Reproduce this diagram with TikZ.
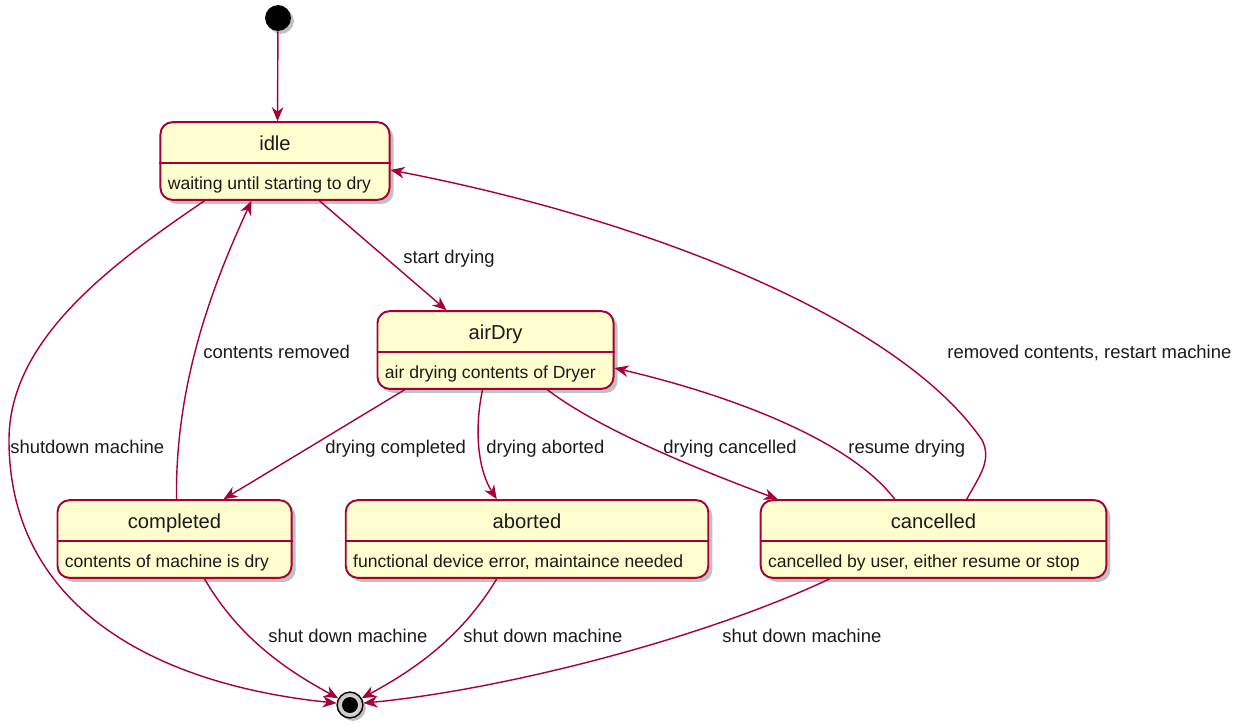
\documentclass[tikz,border=0pt]{standalone}
\usepackage{fontspec}
\setmainfont{Liberation Sans}
\usetikzlibrary{arrows.meta,calc,shadows}
\definecolor{umlred}{HTML}{A80036}
\definecolor{umlfill}{HTML}{FEFECE}
\definecolor{umltext}{HTML}{1A1A1A}
\tikzset{
  statebox/.style={draw=umlred, line width=1.1pt, fill=umlfill, rounded corners=6.8pt, inner sep=0pt,
    drop shadow={shadow xshift=2.3pt, shadow yshift=-2.3pt, opacity=0.35, fill=black!70}},
  titletext/.style={font=\fontsize{11.5}{13}\selectfont, text=umltext, inner sep=0pt, text height=0.75em, text depth=0.25em},
  bodytext/.style={font=\fontsize{10}{12}\selectfont, text=umltext, inner sep=0pt, text height=0.75em, text depth=0.25em, anchor=west},
  lbl/.style={font=\fontsize{10.5}{12}\selectfont, text=umltext, inner sep=0pt, text height=0.75em, text depth=0.25em, anchor=west},
  edge/.style={draw=umlred, line width=0.8pt, -{Stealth[length=8pt, width=6.6pt, inset=2.6pt]}},
  startdot/.style={circle, fill=black, minimum size=14.7pt, inner sep=0pt,
    drop shadow={shadow xshift=1.7pt, shadow yshift=-1.7pt, opacity=0.35, fill=black!70}},
  enddot/.style={circle, draw=black, line width=0.8pt, inner color=white, outer color=black!25, minimum size=14.7pt, inner sep=0pt,
    drop shadow={shadow xshift=1.7pt, shadow yshift=-1.7pt, opacity=0.35, fill=black!70}},
}
\newcommand{\umlstate}[6]{%
  \node[statebox, minimum width={#4*0.5669pt}, minimum height=44.2pt] (#1) at (#2,#3) {};
  \draw[umlred, line width=1.1pt] ($(#1.west)+(0,2)$) -- ($(#1.east)+(0,2)$);
  \node[titletext] (#1-title) at ($(#1.north)+(0,25)$) {#5};
  \node[bodytext] (#1-body) at ($(#1.west)+(8,24)$) {#6};
}
\begin{document}
\begin{tikzpicture}[x=0.02cm, y=-0.02cm]
  \useasboundingbox (0,0) rectangle (1247,725);

  \node[startdot] (init) at (278,18) {};
  \node[enddot] (final) at (350,705) {};
  \node[circle, fill=black, minimum size=9.1pt, inner sep=0pt] (finalin) at (final) {};

  \umlstate{idle}{275}{161}{230}{idle}{waiting until starting to dry}
  \umlstate{airDry}{495.5}{350}{237}{airDry}{air drying contents of Dryer}
  \umlstate{completed}{174.5}{539}{235}{completed}{contents of machine is dry}
  \umlstate{aborted}{527}{539}{364}{aborted}{functional device error, maintaince needed}
  \umlstate{cancelled}{933.5}{539}{347}{cancelled}{cancelled by user, either resume or stop}

  % initial -> idle
  \draw[edge] (init) -- ($(idle.north west)+(118,0)$);

  % idle -> airDry
  \draw[edge] ($(idle.south west)+(160,0)$) -- ($(airDry.north west)+(70,0)$);
  \node[lbl] (l-start) at (403,259) {start drying};

  % idle -> final (shutdown machine)
  \coordinate (sdmid) at (9,440);
  \draw[edge] ($(idle.south west)+(45,0)$) .. controls (110,265) and (9,340) .. (sdmid)
     .. controls (9,610) and (160,685) .. (final.172);
  \node[lbl] (l-shutdown) at (10,449) {shutdown machine};

  % completed -> idle
  \draw[edge] ($(completed.north west)+(120,0)$) .. controls (175,380) and (215,280) .. ($(idle.south west)+(92,0)$);
  \node[lbl] (l-removed) at (203,354) {contents removed};

  % airDry -> completed
  \draw[edge] ($(airDry.south west)+(28,0)$) -- ($(completed.north west)+(167,0)$);
  \node[lbl] (l-compl) at (325,449) {drying completed};

  % airDry -> aborted
  \draw[edge] ($(airDry.south west)+(106,0)$) .. controls (474,430) and (478,470) .. ($(aborted.north west)+(152,0)$);
  \node[lbl] (l-abort) at (486,449) {drying aborted};

  % airDry -> cancelled
  \draw[edge] ($(airDry.south west)+(171,0)$) .. controls (600,430) and (700,470) .. ($(cancelled.north west)+(18,0)$);
  \node[lbl] (l-cancel) at (663,449) {drying cancelled};

  % cancelled -> airDry
  \draw[edge] ($(cancelled.north west)+(135,0)$) .. controls (850,440) and (730,395) .. ($(airDry.east)+(0,18)$);
  \node[lbl] (l-resume) at (848,449) {resume drying};

  % cancelled -> idle
  \coordinate (rcmid) at (982,440);
  \draw[edge] ($(cancelled.north west)+(207,0)$) .. controls (980,475) and (992,460) .. (rcmid)
     .. controls (900,320) and (650,220) .. ($(idle.east)+(0,9)$);
  \node[lbl] (l-restart) at (947,354) {removed contents, restart machine};

  % completed -> final
  \draw[edge] ($(completed.south west)+(148,0)$) .. controls (240,640) and (290,672) .. (final.150);
  \node[lbl] (l-sd1) at (268,638) {shut down machine};

  % aborted -> final
  \draw[edge] ($(aborted.south west)+(152,0)$) .. controls (460,640) and (410,672) .. (final.30);
  \node[lbl] (l-sd2) at (463,638) {shut down machine};

  % cancelled -> final
  \draw[edge] ($(cancelled.south west)+(70,0)$) .. controls (700,640) and (500,690) .. (final.8);
  \node[lbl] (l-sd3) at (722,638) {shut down machine};
\end{tikzpicture}
\end{document}
